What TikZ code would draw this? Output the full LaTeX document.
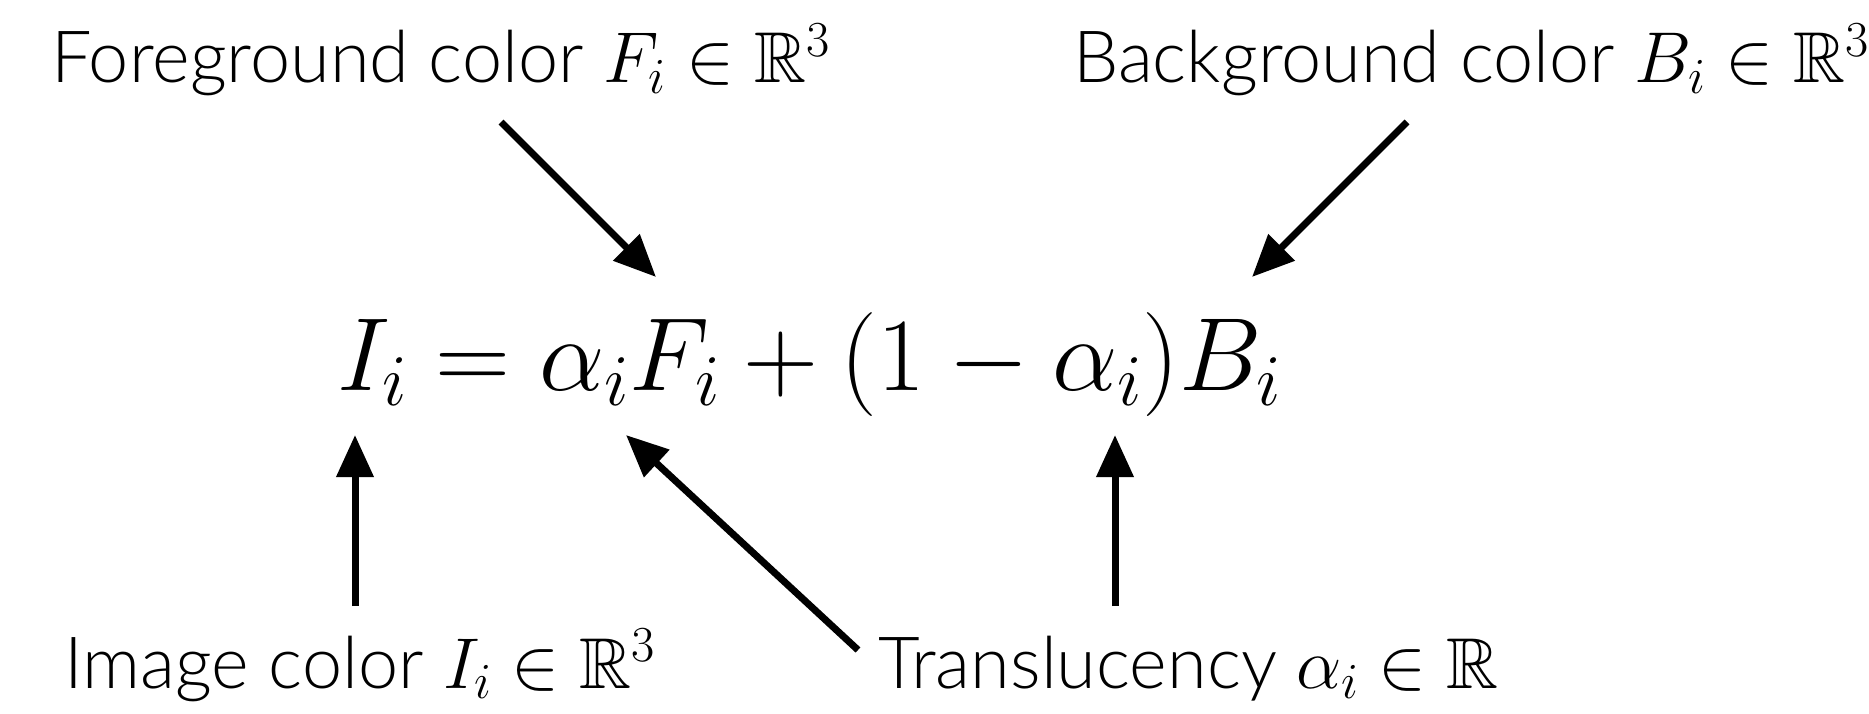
\RequirePackage{fix-cm}
\documentclass[tikz,border=0pt]{standalone}
\usepackage{amssymb}
\usepackage{fontspec}
\setmainfont{Lato Light}
\usetikzlibrary{arrows.meta}
\begin{document}
\begin{tikzpicture}[x=1pt,y=-1pt,
  lbl/.style={inner sep=0pt,anchor=base west,font=\fontsize{72}{80}\selectfont},
  eqn/.style={inner sep=0pt,anchor=base west,font=\fontsize{104}{110}\selectfont},
  arr/.style={line width=7pt,-{Triangle[length=42pt,width=36pt]}}]
\useasboundingbox (0,0) rectangle (1869,714);
\node[lbl] (fg) at (51,83) {Foreground color $F_i\in\mathbb{R}^3$};
\node[lbl] (bg) at (1073,83) {Background color $B_i\in\mathbb{R}^3$};
\node[eqn] (eq) at (337,390) {$I_i=\alpha_iF_i+(1-\alpha_i)B_i$};
\node[lbl] (img) at (64,688) {Image color $I_i\in\mathbb{R}^3$};
\node[lbl] (tr) at (878,688) {Translucency $\alpha_i\in\mathbb{R}$};
\coordinate (a1s) at (501,122); \coordinate (a1e) at (656,277);
\coordinate (a2s) at (1407,122); \coordinate (a2e) at (1252,277);
\coordinate (a3s) at (355,606); \coordinate (a3e) at (355,435);
\coordinate (a4s) at (858,650); \coordinate (a4e) at (626,435);
\coordinate (a5s) at (1115,606); \coordinate (a5e) at (1115,435);
\draw[arr] (a1s) -- (a1e);
\draw[arr] (a2s) -- (a2e);
\draw[arr] (a3s) -- (a3e);
\draw[arr] (a4s) -- (a4e);
\draw[arr] (a5s) -- (a5e);
\end{tikzpicture}
\end{document}
